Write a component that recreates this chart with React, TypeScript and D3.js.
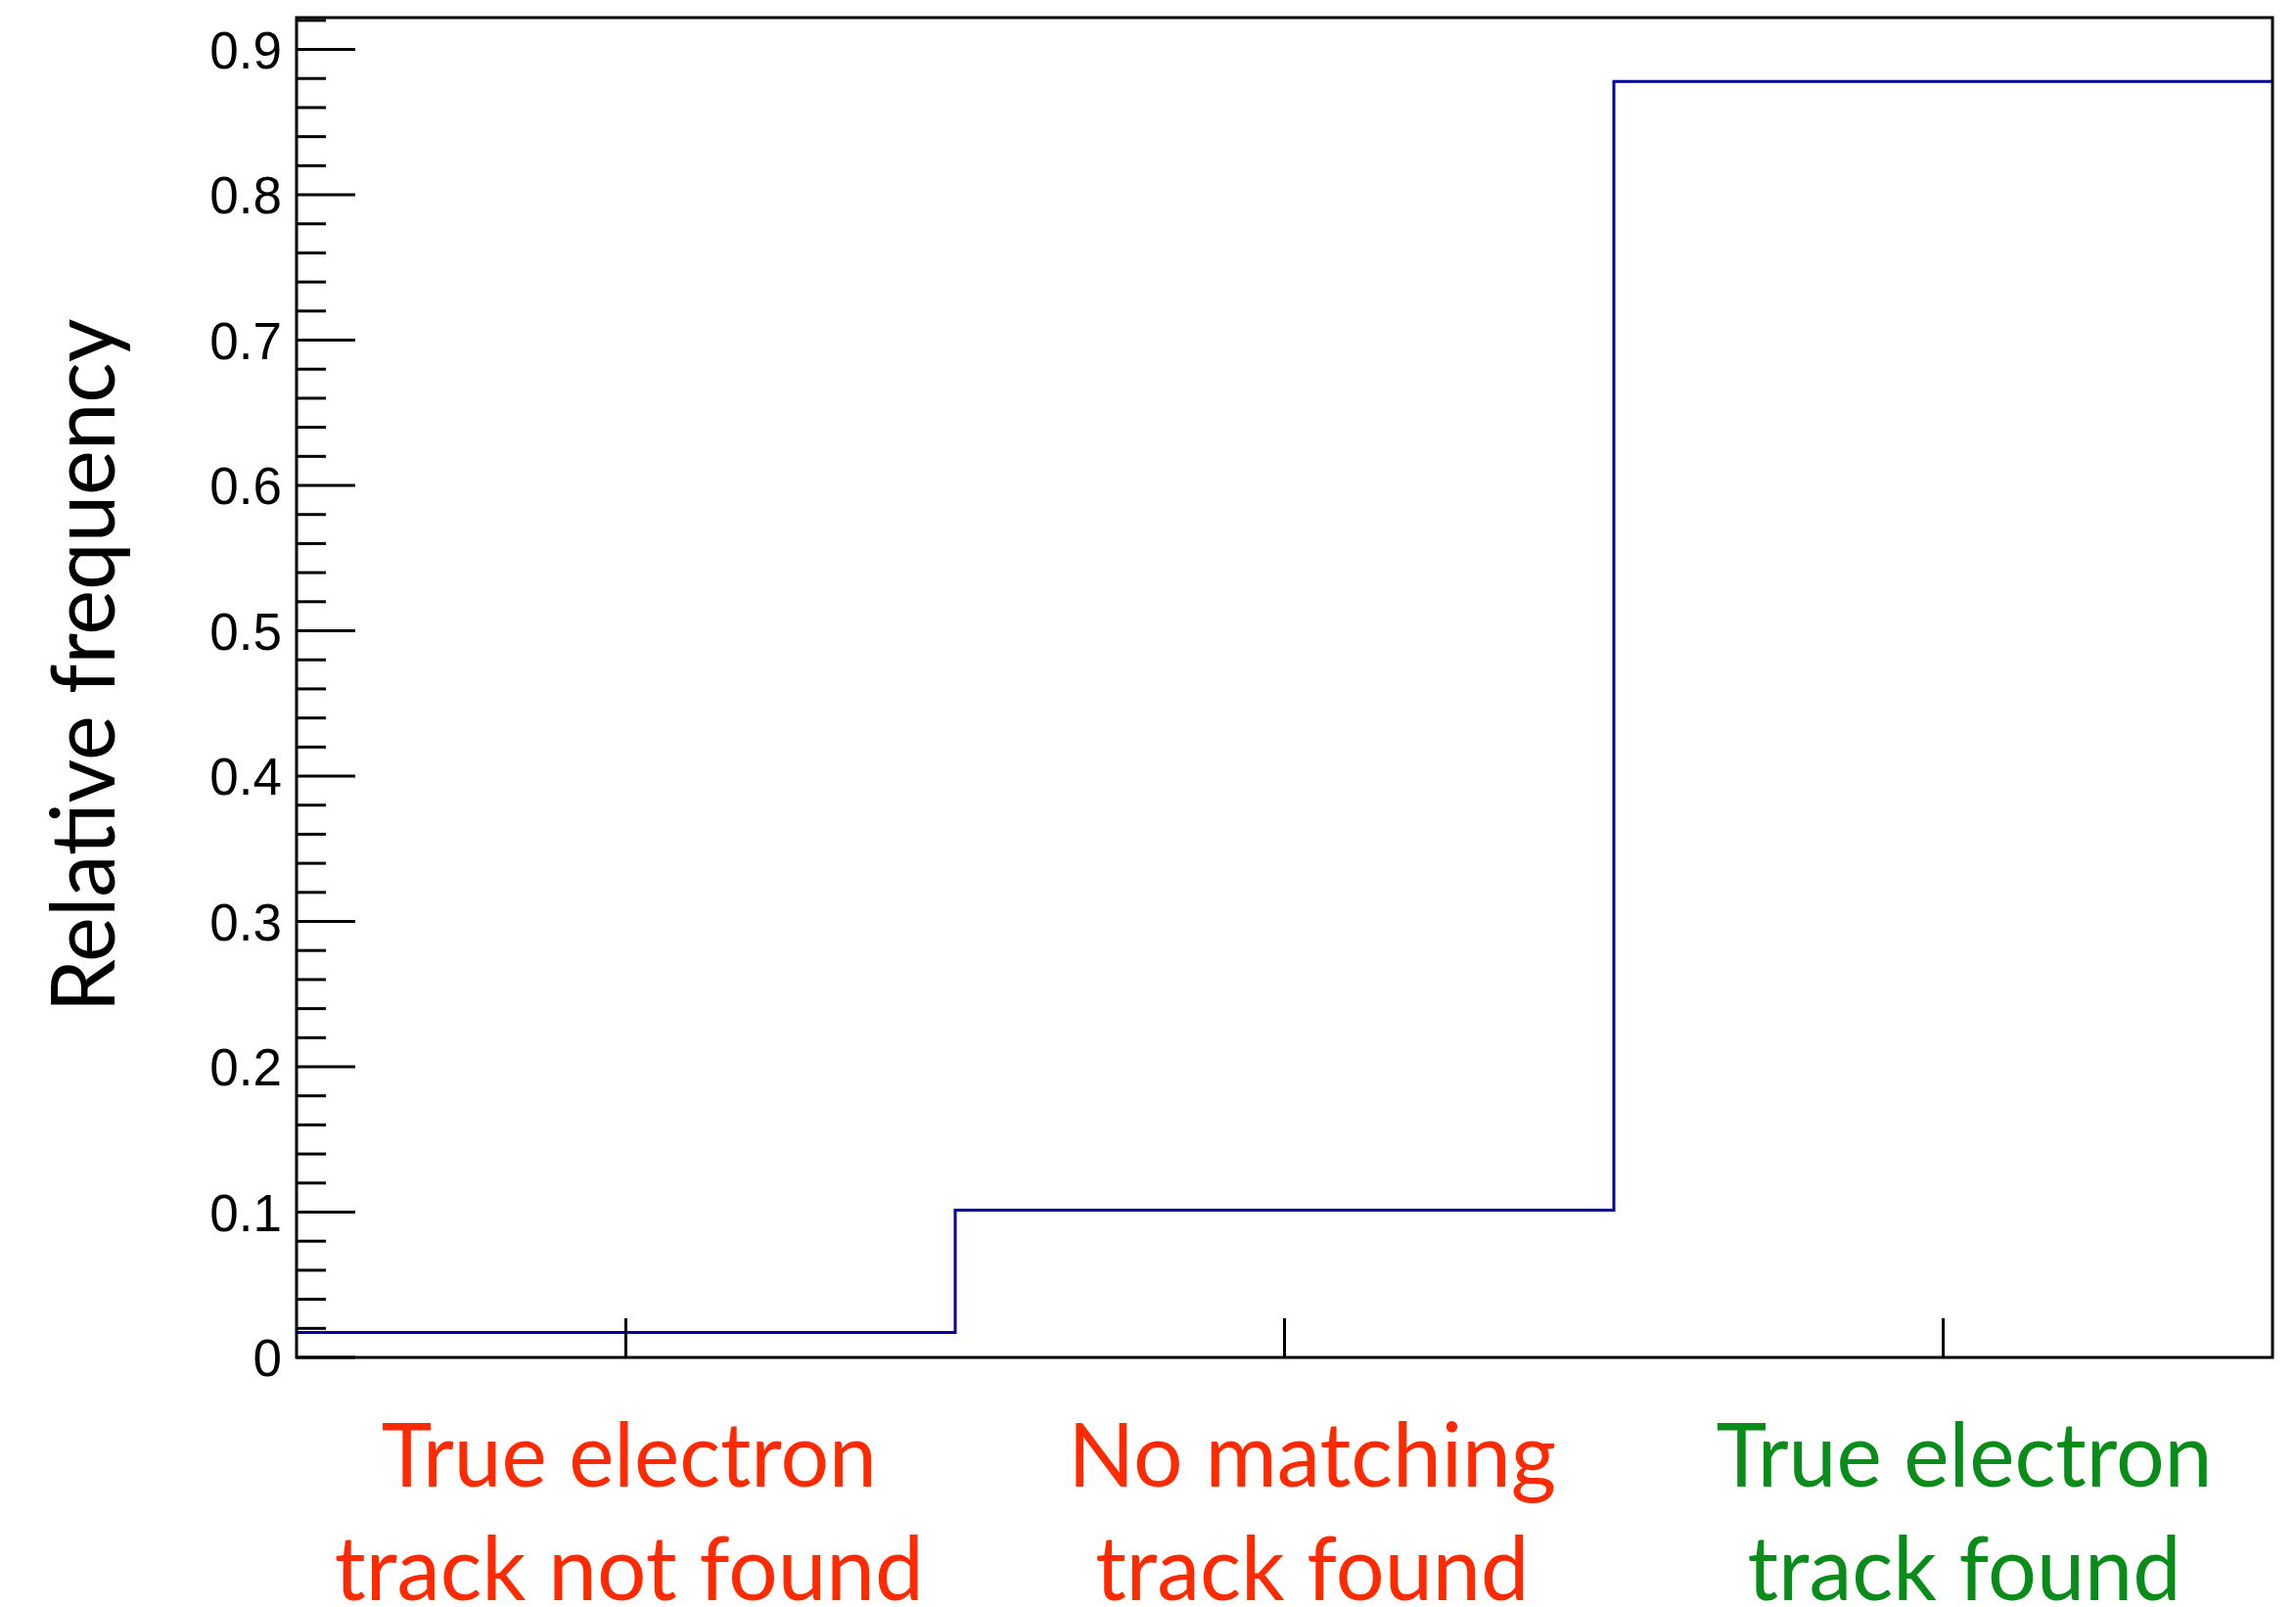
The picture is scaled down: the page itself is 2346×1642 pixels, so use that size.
import React from "react";
import * as d3 from "d3";

const binEdges = [0, 1, 2, 3];
const binValues = [0.0172, 0.1014, 0.878];
const yMajorTicks = [0, 0.1, 0.2, 0.3, 0.4, 0.5, 0.6, 0.7, 0.8, 0.9];
const yTickLabels = ["0", "0.1", "0.2", "0.3", "0.4", "0.5", "0.6", "0.7", "0.8", "0.9"];
const xMajorTicks = [0.5, 1.5, 2.5];
const categoryLines = [
  ["True electron", "track not found"],
  ["No matching", "track found"],
  ["True electron", "track found"],
];
const categoryLabelX = [0.505, 1.542, 2.532];
const categoryColors = ["#ff2a00", "#ff2a00", "#0a8c1a"];
const yTitle = "Relative frequency";

const W = 2346;
const H = 1642;
const L = 303, R = 2322, T = 18, B = 1387;

export default function App() {
  const x = d3.scaleLinear().domain([0, 3]).range([L, R]);
  const yMax = d3.max(binValues)! * 1.05;
  const y = d3.scaleLinear().domain([0, yMax]).range([B, T]);

  const minorTicks = d3.range(0, 47).map((i) => i * 0.02).filter((v) => v <= yMax && Math.abs(v * 10 - Math.round(v * 10)) > 1e-6);

  const stepData: [number, number][] = [];
  binValues.forEach((v, i) => {
    stepData.push([binEdges[i], v]);
    stepData.push([binEdges[i + 1], v]);
  });
  const line = d3.line<[number, number]>().x((d) => x(d[0])).y((d) => y(d[1]));

  const labelFont = "Lato, 'Open Sans', sans-serif";
  const widths = [
    [506, 602],
    [499, 443],
    [507, 443],
  ];

  return (
    <svg width={W} height={H} style={{ position: "absolute", left: 0, top: 0, background: "#fff" }}>
      <rect x={0} y={0} width={W} height={H} fill="#fff" />
      {/* histogram */}
      <path d={line(stepData)!} fill="none" stroke="#000099" strokeWidth={3} />
      {/* y ticks */}
      {yMajorTicks.map((v, i) => (
        <g key={"ym" + i}>
          <line x1={L} x2={L + 60} y1={y(v)} y2={y(v)} stroke="#000" strokeWidth={3} />
          <text x={288} y={y(v)} dy="0.36em" textAnchor="end" fontFamily="'Liberation Sans', Arial, sans-serif" fontSize={53} fill="#000">
            {yTickLabels[i]}
          </text>
        </g>
      ))}
      {minorTicks.map((v, i) => (
        <line key={"yn" + i} x1={L} x2={L + 30} y1={y(v)} y2={y(v)} stroke="#000" strokeWidth={3} />
      ))}
      {/* x ticks */}
      {xMajorTicks.map((v, i) => (
        <line key={"xt" + i} x1={x(v)} x2={x(v)} y1={B} y2={B - 40} stroke="#000" strokeWidth={3} />
      ))}
      {/* frame */}
      <rect x={L} y={T} width={R - L} height={B - T} fill="none" stroke="#000" strokeWidth={3} />
      {/* category labels */}
      {categoryLines.map((lines, i) => (
        <g key={"cl" + i}>
          {lines.map((s, j) => (
            <text
              key={j}
              x={x(categoryLabelX[i])}
              y={1519 + j * 116}
              textAnchor="middle"
              fontFamily={labelFont}
              fontSize={92}
              fill={categoryColors[i]}
              textLength={widths[i][j]}
              lengthAdjust="spacingAndGlyphs"
            >
              {s}
            </text>
          ))}
        </g>
      ))}
      {/* y title */}
      <text
        transform={`translate(117, 680) rotate(-90)`}
        textAnchor="middle"
        fontFamily={labelFont}
        fontSize={92}
        fill="#000"
        textLength={709}
        lengthAdjust="spacingAndGlyphs"
      >
        {yTitle}
      </text>
    </svg>
  );
}
